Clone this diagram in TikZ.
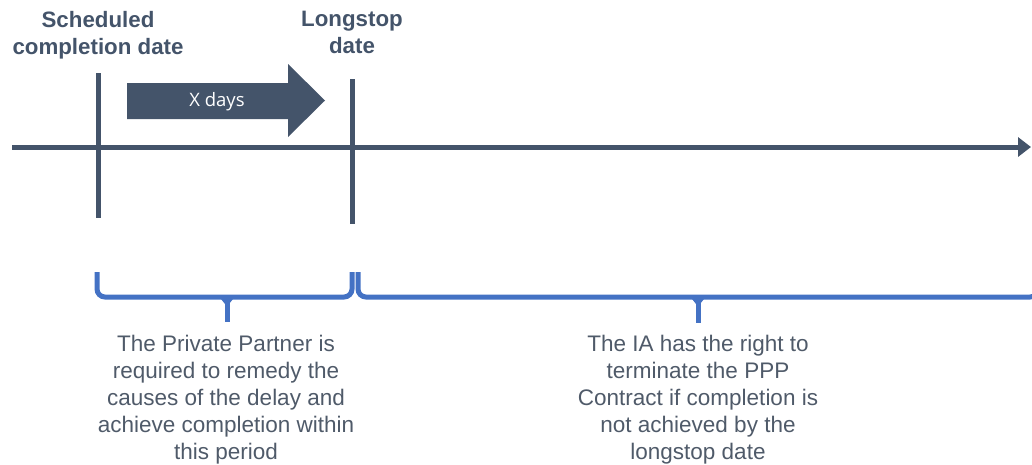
\documentclass[tikz,border=0pt]{standalone}
\usepackage{fontspec}
\setmainfont{Liberation Sans}
\newfontfamily\daysfont{Open Sans}
\usetikzlibrary{arrows.meta}
\definecolor{slate}{HTML}{44546A}
\definecolor{braceblue}{HTML}{4472C4}
\definecolor{notegray}{HTML}{4F5A69}

\begin{document}
\begin{tikzpicture}[x = 1pt, y = -1pt,
  axisline/.style = {line width = 5pt, slate},
  period/.style = {line width = 5pt, braceblue, rounded corners = 8pt},
  datelabel/.style = {anchor = north, inner sep = 0, align = center, text = slate,
    font = \bfseries\fontsize{22.3}{27}\selectfont},
  notelabel/.style = {anchor = north, inner sep = 0, align = center, text = notegray,
    font = \fontsize{22.5}{27}\selectfont},
  dayslabel/.style = {inner sep = 0, text = white, font = \daysfont\fontsize{18.5}{22}\selectfont}]

\useasboundingbox (0, 0) rectangle (1032, 464);
\clip (0, 0) rectangle (1032, 464);

% time line with the two dates
\coordinate (start) at (12, 147);
\coordinate (end) at (1031, 147);
\draw [axisline, -{Triangle[length = 13pt, width = 19pt]}] (start) -- (end);
\draw [axisline] (98, 73) -- (98, 218);
\draw [axisline] (352, 79) -- (352, 224);

% the X days arrow
\fill [slate] (127, 83) -- (288, 83) -- (288, 64) -- (325, 100.5) -- (288, 137)
  -- (288, 119) -- (127, 119) -- cycle;
\node [dayslabel] (xdays) at (217, 102) {X days};

\node [datelabel] (scheduled) at (98, 11) {Scheduled\\completion date};
\node [datelabel] (longstop) at (352, 11) {Longstop\\date};

% braces
\draw [period] (97, 272) -- (97, 297) -- (352, 297) -- (352, 272);
\draw [period] (227, 297) -- (227, 322);
\fill [braceblue] (221, 299) -- (233, 299) -- (229, 304) -- (225, 304) -- cycle;
\draw [period] (358, 272) -- (358, 297) -- (1038, 297) -- (1038, 272);
\draw [period] (698, 297) -- (698, 323);
\fill [braceblue] (692, 299) -- (704, 299) -- (700, 304) -- (696, 304) -- cycle;

\node [notelabel] (partner) at (226, 335) {The Private Partner is\\required to remedy the\\causes of the delay and\\achieve completion within\\this period};
\node [notelabel] (ia) at (698, 335) {The IA has the right to\\terminate the PPP\\Contract if completion is\\not achieved by the\\longstop date};

\end{tikzpicture}
\end{document}
